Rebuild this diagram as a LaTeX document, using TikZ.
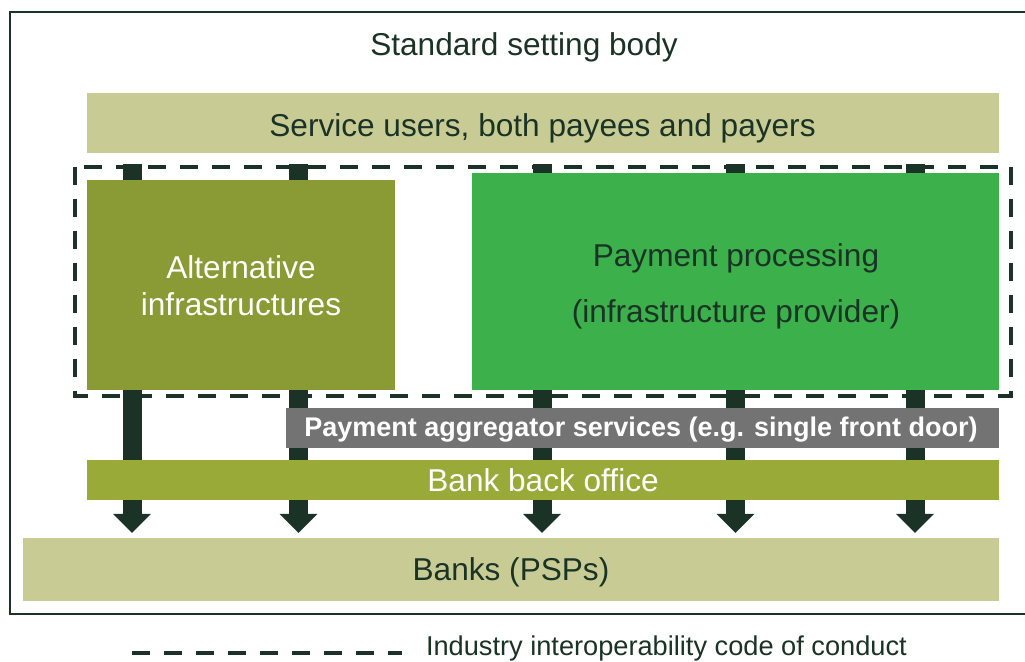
\documentclass[tikz,border=0pt]{standalone}
\usepackage{fontspec}
\setmainfont{Liberation Sans}
\usetikzlibrary{arrows.meta}
\definecolor{dk}{HTML}{1B3326}
\definecolor{lightc}{HTML}{C8CC94}
\definecolor{altc}{HTML}{8A9A34}
\definecolor{payc}{HTML}{3CB04A}
\definecolor{bboc}{HTML}{9AAA38}
\definecolor{greyc}{HTML}{737373}
\begin{document}
\begin{tikzpicture}[x=0.5pt,y=-0.5pt,
  box/.style={inner sep=0pt,outer sep=0pt,draw=none},
  txt/.style={inner sep=0pt,outer sep=0pt,anchor=base,font=\fontsize{15.8pt}{18.5pt}\selectfont},
  darktxt/.style={txt,text=dk},
  whitetxt/.style={txt,text=white},
  flow/.style={line width=9.5pt,color=dk,-{Triangle[width=19pt,length=9.5pt,line width=0pt]}},
  code/.style={line width=2pt,color=dk,dash pattern=on 9pt off 7pt}]
\useasboundingbox (0,0) rectangle (1025,662);
\fill[white] (0,0) rectangle (1025,662);
% outer frame
\draw[dk,line width=1pt] (10,12) rectangle (1040,614);
\node[darktxt] (title) at (524,56) {Standard setting body};
% flow arrows (behind boxes)
\coordinate (s1) at (132,164);   \coordinate (e1) at (132,533);
\coordinate (s2) at (298.5,164); \coordinate (e2) at (298.5,533);
\coordinate (s3) at (542,164);   \coordinate (e3) at (542,533);
\coordinate (s4) at (735.5,164); \coordinate (e4) at (735.5,533);
\coordinate (s5) at (915,164);   \coordinate (e5) at (915,533);
\foreach \i in {1,...,5} {\draw[flow] (s\i) -- (e\i);}
% boxes
\node[box,fill=lightc,minimum width=456pt,minimum height=30pt] (users) at (543,123) {};
\node[box,fill=altc,minimum width=154pt,minimum height=105pt] (alt) at (241,285) {};
\node[box,fill=payc,minimum width=263.5pt,minimum height=108.5pt] (pay) at (735.5,281.5) {};
\node[box,fill=greyc,minimum width=356.5pt,minimum height=20pt] (agg) at (642.5,428) {};
\node[box,fill=bboc,minimum width=456pt,minimum height=20pt] (bbo) at (543,480) {};
\node[box,fill=lightc,minimum width=488pt,minimum height=31.5pt] (banks) at (511,569.5) {};
% texts
\node[darktxt] (usersT) at (542.5,137) {Service users, both payees and payers};
\node[whitetxt] (altT1) at (241,279) {Alternative};
\node[whitetxt] (altT2) at (241,316) {infrastructures};
\node[darktxt] (payT1) at (736,267) {Payment processing};
\node[darktxt] (payT2) at (736,323) {(infrastructure provider)};
\node[txt,text=white,font=\fontsize{13.5pt}{16pt}\selectfont\bfseries] (aggT) at (641,437) {Payment aggregator services (e.g. single front door)};
\node[whitetxt] (bboT) at (543,492) {Bank back office};
\node[darktxt] (banksT) at (511,581) {Banks (PSPs)};
% interoperability code boundary
\draw[code] (74.5,167) rectangle (1011,396);
% legend
\coordinate (l1) at (132,653);
\coordinate (l2) at (402,653);
\draw[code,line width=2.25pt] (l1) -- (l2);
\node[txt,anchor=base west,text=dk,font=\fontsize{13.6pt}{16pt}\selectfont] (legT) at (426,656) {Industry interoperability code of conduct};
\end{tikzpicture}
\end{document}
